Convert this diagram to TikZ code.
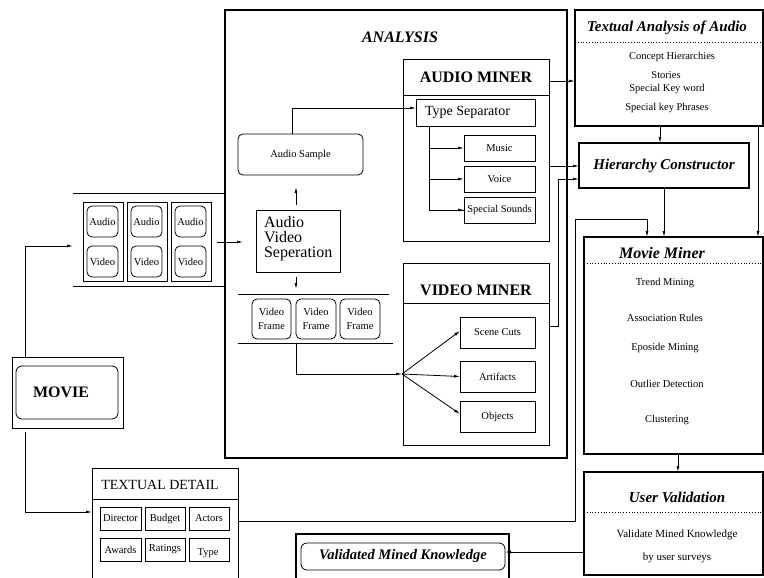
\documentclass[tikz,border=0pt]{standalone}
\usepackage{fontspec}
\setmainfont{Liberation Serif}
\usetikzlibrary{arrows.meta}
\newcommand\boxat[7]{\node[#1, minimum width={#5-#3}, minimum height={#6-#4}] (#2) at ({(#3+#5)/2},{(#4+#6)/2}) {#7};}
\tikzset{
 thinbox/.style={draw, line width=0.8pt, inner sep=0pt, outer sep=0pt},
 thickbox/.style={draw, line width=1.8pt, inner sep=0pt, outer sep=0pt},
 rbox/.style={draw, line width=0.8pt, rounded corners=5pt, inner sep=0pt, outer sep=0pt},
 lbl/.style={inner sep=0pt, outer sep=0pt},
 conn/.style={line width=0.8pt, -{Latex[length=6pt,width=3pt]}},
 wire/.style={line width=0.8pt},
 dotline/.style={line width=0.8pt, dash pattern=on 0.8pt off 2pt},
 small/.style={font=\fontsize{10.5}{14}\selectfont},
 bigbi/.style={font=\fontsize{15}{16}\selectfont\bfseries\itshape},
 bigb/.style={font=\fontsize{16}{17}\selectfont\bfseries},
}
\begin{document}
\begin{tikzpicture}[x=1pt,y=-1pt]
\useasboundingbox (0,0) rectangle (764,578);
\clip (0,0) rectangle (764,578);

% ---------- ANALYSIS ----------
\boxat{thickbox}{analysis}{225}{10}{567}{458}{}
\node[lbl, font=\fontsize{16}{17}\selectfont\bfseries\itshape] (analysisT) at (400,37) {ANALYSIS};

% Audio miner
\boxat{thinbox}{audiominer}{403}{59}{549}{241}{}
\draw[wire] (403,95) -- (549,95);
\node[lbl,bigb] (amT) at (476,77) {AUDIO MINER};
\boxat{thinbox}{typesep}{416}{99}{535}{126}{}
\node[lbl, font=\fontsize{14}{14}\selectfont] (typesepT) at (467.5,112.5) {Type Separator};
\boxat{thinbox,small}{music}{464}{135}{535}{161}{Music}
\boxat{thinbox,small}{voice}{464}{166}{535}{192}{Voice}
\boxat{thinbox,small}{special}{464}{197}{535}{223}{Special Sounds}

% Audio sample, separation
\boxat{rbox,small}{asample}{238}{134}{363}{175}{Audio Sample}
\boxat{thinbox}{avs}{256}{210}{340}{272}{}
\node[lbl, align=left, anchor=west, font=\fontsize{16}{15}\selectfont] (avsT) at (264,239) {Audio\\Video\\Seperation};

% Video frames strip
\coordinate (vtop1) at (238,294); \coordinate (vtop2) at (389,294);
\coordinate (vbot1) at (238,343); \coordinate (vbot2) at (393,343);
\draw[wire] (vtop1) -- (vtop2);
\draw[wire] (vbot1) -- (vbot2);
\boxat{rbox,small,align=center}{vf1}{252}{299}{291}{339}{Video\\Frame}
\boxat{rbox,small,align=center}{vf2}{296}{299}{336}{339}{Video\\Frame}
\boxat{rbox,small,align=center}{vf3}{340}{299}{380}{339}{Video\\Frame}

% Video miner
\boxat{thinbox}{videominer}{403}{263}{549}{445}{}
\draw[wire] (403,303) -- (549,303);
\node[lbl,bigb] (vmT) at (476,290) {VIDEO MINER};
\boxat{thinbox,small}{scene}{460}{317}{535}{348}{Scene Cuts}
\boxat{thinbox,small}{artifacts}{460}{361}{535}{392}{Artifacts}
\boxat{thinbox,small}{objects}{460}{401}{535}{432}{Objects}

% ---------- Film strip ----------
\coordinate (stop1) at (73,193); \coordinate (stop2) at (225,193);
\coordinate (sbot1) at (73,286); \coordinate (sbot2) at (225,286);
\draw[wire] (stop1) -- (stop2);
\draw[wire] (sbot1) -- (sbot2);
\boxat{thinbox}{f1}{83}{202}{123}{281}{}
\boxat{thinbox}{f2}{127}{202}{167}{281}{}
\boxat{thinbox}{f3}{171}{202}{211}{281}{}
\boxat{rbox,small}{f1a}{87}{206}{118}{237}{Audio}
\boxat{rbox,small}{f1v}{87}{246}{118}{277}{Video}
\boxat{rbox,small}{f2a}{131}{206}{162}{237}{Audio}
\boxat{rbox,small}{f2v}{131}{246}{162}{277}{Video}
\boxat{rbox,small}{f3a}{175}{206}{206}{237}{Audio}
\boxat{rbox,small}{f3v}{175}{246}{206}{277}{Video}

% ---------- MOVIE ----------
\boxat{thinbox}{movie}{12}{357}{123}{428}{}
\boxat{rbox,rounded corners=6pt}{moviein}{16}{366}{118}{419}{}
\node[lbl,bigb] (movieT) at (61,392) {MOVIE};

% ---------- TEXTUAL DETAIL ----------
\boxat{thinbox}{tdetail}{92}{468}{238}{600}{}
\draw[wire] (92,499) -- (238,499);
\node[lbl, font=\fontsize{14}{14}\selectfont] (tdT) at (160,485) {TEXTUAL DETAIL};
\boxat{thinbox,small}{director}{100}{507}{141}{530}{Director}
\boxat{thinbox,small}{budget}{145}{507}{185}{530}{Budget}
\boxat{thinbox,small}{actors}{189}{507}{229}{530}{Actors}
\boxat{thinbox,small}{awards}{100}{538}{141}{561}{Awards}
\boxat{thinbox,small}{ratings}{145}{538}{185}{561}{Ratings}
\boxat{thinbox}{typeb}{189}{538}{229}{561}{}
\node[lbl,small] (typeT) at (208,553) {Type};

% ---------- Textual analysis of audio ----------
\boxat{thickbox}{textaudio}{575}{10}{763}{126}{}
\node[lbl,bigbi] (taT) at (667,28) {Textual Analysis of Audio};
\draw[dotline] (575,42) -- (763,42);
\node[lbl,small] (ta1T) at (672,57) {Concept Hierarchies};
\node[lbl,small] (ta2T) at (666,75) {Stories};
\node[lbl,small] (ta3T) at (667,89) {Special Key word};
\node[lbl,small] (ta4T) at (667,108) {Special key Phrases};

% ---------- Hierarchy constructor ----------
\boxat{thickbox,bigbi}{hier}{579}{143}{749}{188}{Hierarchy Constructor}

% ---------- Movie miner ----------
\boxat{thickbox}{movieminer}{584}{237}{763}{454}{}
\node[lbl,bigbi,font=\fontsize{16}{17}\selectfont\bfseries\itshape] (mmT) at (662,253) {Movie Miner};
\draw[dotline] (584,263) -- (763,263);
\node[lbl,small] (mm1T) at (665,283) {Trend Mining};
\node[lbl,small] (mm2T) at (665,318) {Association Rules};
\node[lbl,small] (mm3T) at (665,348) {Eposide Mining};
\node[lbl,small] (mm4T) at (667,384) {Outlier Detection};
\node[lbl,small] (mm5T) at (667,420) {Clustering};

% ---------- User validation ----------
\boxat{thickbox}{userval}{584}{472}{763}{575}{}
\node[lbl,bigbi] (uvT) at (677,497) {User Validation};
\draw[dotline] (584,512) -- (763,512);
\node[lbl,font=\fontsize{11}{12}\selectfont] (uv1T) at (677,535) {Validate Mined Knowledge};
\node[lbl,font=\fontsize{11}{12}\selectfont] (uv2T) at (677,558) {by user surveys};

% ---------- Validated mined knowledge ----------
\boxat{thickbox}{vmk}{296}{534}{509}{600}{}
\boxat{rbox,rounded corners=6pt,font=\fontsize{14.5}{15}\selectfont\bfseries\itshape}{vmkin}{301}{543}{505}{570}{Validated Mined Knowledge}

% ---------- Connectors ----------
\coordinate (stripin) at (73,246);
\draw[conn] ([xshift=13pt]movie.north west) |- (stripin);
\coordinate (tdin) at (92,512);
\draw[conn, shorten <=4pt] ([xshift=13pt]movie.south west) |- (tdin);
\coordinate (stripout) at (217,242);
\draw[conn, shorten >=13pt] (stripout) -- (avs.west |- stripout);
\draw[conn, shorten <=5pt, shorten >=12pt] ([xshift=-2pt]avs.north) -- ([xshift=-2pt]avs.north |- asample.south);
\draw[conn] ([xshift=54pt]asample.north west) |- ([yshift=4.5pt]typesep.west);
\draw[wire] ([xshift=13pt]typesep.south west) |- (special.west);
\draw[conn] ([xshift=13pt]typesep.south west) |- (music.west);
\draw[conn] ([xshift=13pt]typesep.south west) |- (voice.west);
\draw[conn] ([xshift=13pt]typesep.south west) |- (special.west);
\draw[conn, shorten <=5pt, shorten >=5pt] ([xshift=-2pt]avs.south) -- ([xshift=-2pt]avs.south |- vtop1);
\coordinate (fan) at (402,374);
\draw[conn] (vf2.south west |- vbot1) |- (fan);
\draw[conn] (fan) -- ([yshift=1.5pt]scene.west);
\draw[conn] (fan) -- (artifacts.west);
\draw[conn] (fan) -- ([yshift=2.5pt]objects.west);
\coordinate (am1) at (549,81);
\draw[conn] (am1) -- (textaudio.west |- am1);
\coordinate (am2) at (549,166);
\draw[conn] (am2) -- (hier.west |- am2);
\coordinate (vm1) at (549,326);
\coordinate (hc2) at (579,179);
\draw[conn] (vm1) -- ++(9,0) |- (hier.west |- hc2);
\coordinate (ta1) at (660,126);
\draw[conn] (ta1) -- (ta1 |- hier.north);
\coordinate (ta2) at (758,126);
\draw[conn] (ta2) -- (ta2 |- movieminer.north);
\draw[conn] (hier.south) -- (hier.south |- movieminer.north);
\coordinate (td1) at (238,521);
\coordinate (loop1) at (575,219);
\coordinate (mmin) at (647,237);
\draw[conn] (td1) -| (loop1) -| (mmin |- movieminer.north);
\coordinate (mm1) at (678,454);
\draw[conn] (mm1) -- (mm1 |- userval.north);
\coordinate (uv1) at (584,552);
\draw[conn] (uv1) -- (vmkin.east |- uv1);
\end{tikzpicture}
\end{document}
